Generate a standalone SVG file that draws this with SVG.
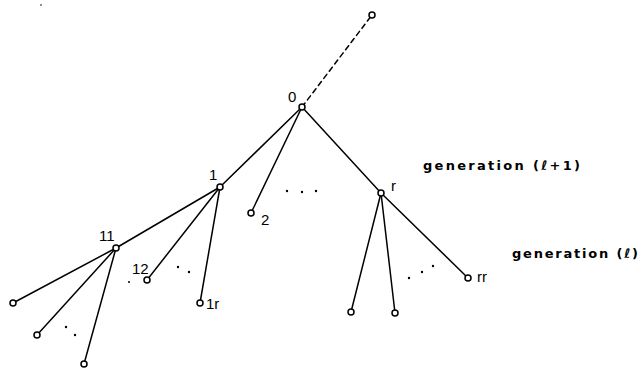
<svg xmlns="http://www.w3.org/2000/svg" width="639" height="369" viewBox="0 0 639 369">
<style>
.e{stroke:#000;stroke-width:1.5;fill:none;stroke-linecap:round}
.d{stroke-dasharray:5 4}
.n{fill:#fff;stroke:#000;stroke-width:1.5}
.l{font-family:"Liberation Sans",Arial,sans-serif;font-size:15px;fill:#000}
.g{font-family:"DejaVu Sans",sans-serif;font-size:13px;font-weight:bold;fill:#000}
.p{fill:#000}
</style>
<rect width="639" height="369" fill="#fff"/>
<g id="connectors">
<line class="e d" x1="302" y1="107" x2="372" y2="15"/>
<line class="e" x1="302" y1="107" x2="220" y2="187"/>
<line class="e" x1="302" y1="107" x2="251" y2="213"/>
<line class="e" x1="302" y1="107" x2="381" y2="193"/>
<line class="e" x1="220" y1="187" x2="116" y2="248"/>
<line class="e" x1="220" y1="187" x2="147" y2="280"/>
<line class="e" x1="220" y1="187" x2="200" y2="303"/>
<line class="e" x1="116" y1="248" x2="13" y2="303"/>
<line class="e" x1="116" y1="248" x2="37" y2="335"/>
<line class="e" x1="116" y1="248" x2="84" y2="364"/>
<line class="e" x1="381" y1="193" x2="351" y2="312"/>
<line class="e" x1="381" y1="193" x2="395" y2="313"/>
<line class="e" x1="381" y1="193" x2="468" y2="278"/>
</g>
<g id="dots">
<circle class="p" cx="41" cy="5" r="0.8"/>
<circle class="p" cx="287" cy="191" r="1.2"/>
<circle class="p" cx="302" cy="192" r="1.2"/>
<circle class="p" cx="316" cy="191" r="1.2"/>
<circle class="p" cx="129" cy="282" r="1"/>
<circle class="p" cx="178" cy="267" r="1.2"/>
<circle class="p" cx="189" cy="272" r="1.2"/>
<circle class="p" cx="66" cy="327" r="1.2"/>
<circle class="p" cx="75" cy="335" r="1.2"/>
<circle class="p" cx="409" cy="278" r="1.2"/>
<circle class="p" cx="422" cy="272" r="1.2"/>
<circle class="p" cx="433" cy="266" r="1.2"/>
</g>
<g id="top"><circle class="n" cx="372" cy="15" r="3"/></g>
<g id="n0"><circle class="n" cx="302" cy="107" r="3"/><text class="l" x="288" y="102">0</text></g>
<g id="n1"><circle class="n" cx="220" cy="187" r="3"/><text class="l" x="209" y="180">1</text></g>
<g id="n2"><circle class="n" cx="251" cy="213" r="3"/><text class="l" x="261" y="225">2</text></g>
<g id="nr"><circle class="n" cx="381" cy="193" r="3"/><text class="l" x="391" y="191">r</text></g>
<g id="n11"><circle class="n" cx="116" cy="248" r="3"/><text class="l" x="99" y="241">11</text></g>
<g id="n12"><circle class="n" cx="147" cy="280" r="3"/><text class="l" x="132" y="274">12</text></g>
<g id="n1r"><circle class="n" cx="200" cy="303" r="3"/><text class="l" x="206" y="309">1r</text></g>
<g id="n111"><circle class="n" cx="13" cy="303" r="3"/></g>
<g id="n112"><circle class="n" cx="37" cy="335" r="3"/></g>
<g id="n11r"><circle class="n" cx="84" cy="364" r="3"/></g>
<g id="nr1"><circle class="n" cx="351" cy="312" r="3"/></g>
<g id="nr2"><circle class="n" cx="395" cy="313" r="3"/></g>
<g id="nrr"><circle class="n" cx="468" cy="278" r="3"/><text class="l" x="477" y="282">rr</text></g>
<g id="gen1"><text class="g" x="423" y="170" textLength="157" lengthAdjust="spacing">generation (ℓ+1)</text></g>
<g id="gen0"><text class="g" x="512" y="258" textLength="126" lengthAdjust="spacing">generation (ℓ)</text></g>
</svg>
